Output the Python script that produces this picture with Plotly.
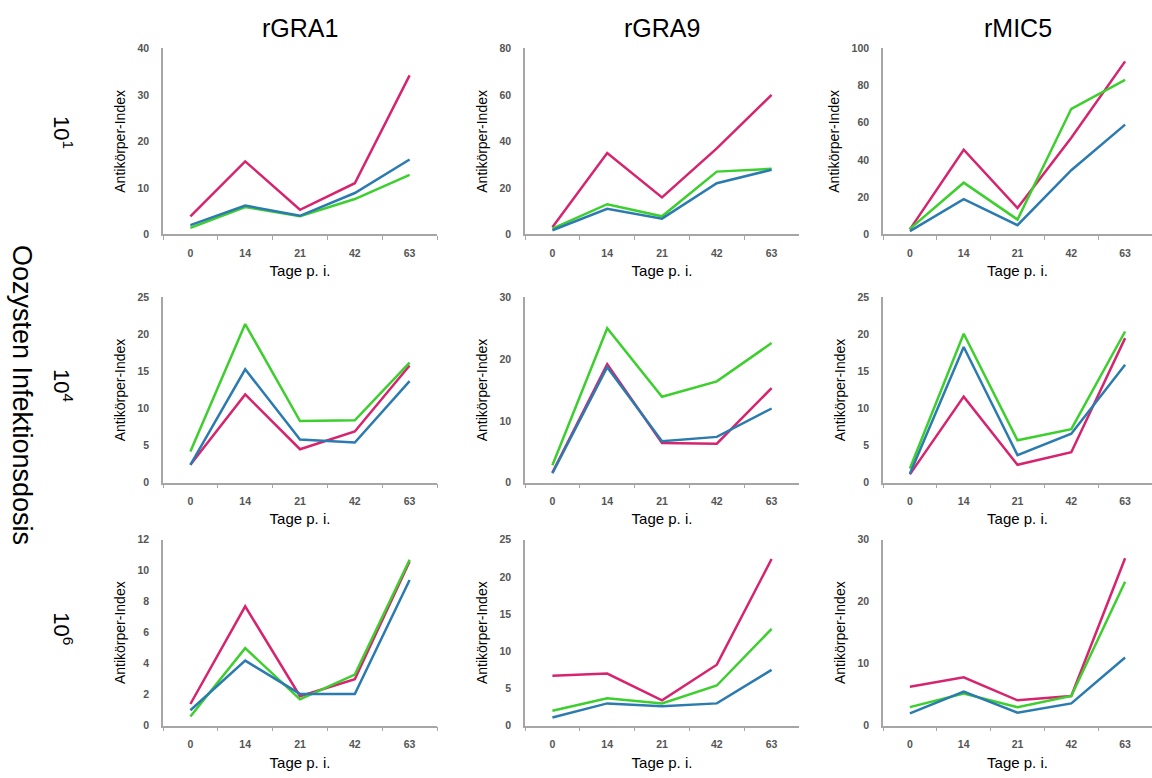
import plotly.graph_objects as go

days = ["0", "14", "21", "42", "63"]
antigens = ["rGRA1", "rGRA9", "rMIC5"]
doses = ["10<sup>1</sup>", "10<sup>4</sup>", "10<sup>6</sup>"]

# Row 1: dose 10^1
gra1_d1_red = [3.9, 15.7, 5.3, 11.0, 34.2]
gra1_d1_green = [1.4, 5.9, 3.9, 7.6, 12.8]
gra1_d1_blue = [2.0, 6.2, 4.0, 8.9, 16.1]
gra9_d1_red = [3.1, 35.0, 15.9, 37.0, 60.0]
gra9_d1_green = [2.5, 13.0, 7.8, 27.0, 28.2]
gra9_d1_blue = [1.8, 11.0, 6.8, 22.0, 27.8]
mic5_d1_red = [2.7, 45.5, 14.2, 52.0, 93.0]
mic5_d1_green = [3.0, 27.8, 8.0, 67.5, 83.0]
mic5_d1_blue = [1.8, 19.0, 5.0, 34.5, 59.0]

# Row 2: dose 10^4
gra1_d4_red = [2.4, 11.9, 4.5, 6.9, 15.8]
gra1_d4_green = [4.2, 21.4, 8.3, 8.4, 16.2]
gra1_d4_blue = [2.4, 15.3, 5.8, 5.4, 13.7]
gra9_d4_red = [1.6, 19.2, 6.4, 6.3, 15.3]
gra9_d4_green = [2.8, 25.0, 13.9, 16.4, 22.6]
gra9_d4_blue = [1.5, 18.7, 6.7, 7.4, 12.0]
mic5_d4_red = [1.1, 11.6, 2.4, 4.1, 19.5]
mic5_d4_green = [1.9, 20.1, 5.7, 7.2, 20.4]
mic5_d4_blue = [1.2, 18.3, 3.7, 6.6, 15.9]

# Row 3: dose 10^6
gra1_d6_red = [1.4, 7.7, 1.9, 3.0, 10.6]
gra1_d6_green = [0.6, 5.0, 1.7, 3.3, 10.7]
gra1_d6_blue = [1.0, 4.2, 2.05, 2.05, 9.4]
gra9_d6_red = [6.7, 7.0, 3.4, 8.2, 22.4]
gra9_d6_green = [2.0, 3.7, 3.0, 5.4, 13.0]
gra9_d6_blue = [1.1, 3.0, 2.6, 3.0, 7.5]
mic5_d6_red = [6.3, 7.8, 4.1, 4.8, 27.0]
mic5_d6_green = [3.0, 5.2, 3.0, 4.8, 23.2]
mic5_d6_blue = [2.0, 5.5, 2.1, 3.6, 11.0]

y_max = [[40, 80, 100], [25, 30, 25], [12, 25, 30]]
y_dtick = [[10, 20, 20], [5, 10, 5], [2, 5, 10]]

panels = [
    [(gra1_d1_red, gra1_d1_green, gra1_d1_blue),
     (gra9_d1_red, gra9_d1_green, gra9_d1_blue),
     (mic5_d1_red, mic5_d1_green, mic5_d1_blue)],
    [(gra1_d4_red, gra1_d4_green, gra1_d4_blue),
     (gra9_d4_red, gra9_d4_green, gra9_d4_blue),
     (mic5_d4_red, mic5_d4_green, mic5_d4_blue)],
    [(gra1_d6_red, gra1_d6_green, gra1_d6_blue),
     (gra9_d6_red, gra9_d6_green, gra9_d6_blue),
     (mic5_d6_red, mic5_d6_green, mic5_d6_blue)],
]

W, H = 1152, 778
col_px = [(163, 437), (525, 799), (883, 1152)]
row_px = [(43, 232), (296, 484), (542, 731)]

RED = "#d6246e"
GREEN = "#3ccf2e"
BLUE = "#2b7bb0"
AXIS = "#a6a6a6"
FAM = "Liberation Sans, Arial, sans-serif"
TICKFONT = dict(family=FAM, size=10.5, color="#555555", weight="bold")
XTITLEFONT = dict(family=FAM, size=15, color="#000000")
YTITLEFONT = dict(family=FAM, size=14, color="#000000")

fig = go.Figure()
layout = {}
for r in range(3):
    for c in range(3):
        idx = r * 3 + c + 1
        xa = "x" if idx == 1 else f"x{idx}"
        ya = "y" if idx == 1 else f"y{idx}"
        red, green, blue = panels[r][c]
        for vals, col in ((red, RED), (green, GREEN), (blue, BLUE)):
            fig.add_trace(go.Scatter(x=days, y=vals, mode="lines",
                                     line=dict(color=col, width=2.5),
                                     xaxis=xa, yaxis=ya, showlegend=False,
                                     hoverinfo="skip"))
        x0, x1 = col_px[c]
        y0, y1 = row_px[r]
        layout["xaxis" if idx == 1 else f"xaxis{idx}"] = dict(
            domain=[x0 / W, x1 / W], anchor=ya, type="category",
            range=[-0.5, 4.5], showline=True, linecolor=AXIS, linewidth=1.5,
            ticks="outside", tickson="boundaries", ticklen=4, tickcolor=AXIS,
            tickwidth=1.2, showgrid=False, zeroline=False, tickfont=TICKFONT,
            ticklabelstandoff=8,
            title=dict(text="Tage p. i.", font=XTITLEFONT, standoff=8),
            fixedrange=True)
        layout["yaxis" if idx == 1 else f"yaxis{idx}"] = dict(
            domain=[1 - y1 / H, 1 - y0 / H], anchor=xa,
            range=[0, y_max[r][c]], dtick=y_dtick[r][c], tick0=0,
            showline=True, linecolor=AXIS, linewidth=1.5, ticks="",
            showgrid=False, zeroline=False, tickfont=TICKFONT,
            ticklabelstandoff=10,
            title=dict(text="Antikörper-Index", font=YTITLEFONT, standoff=9),
            fixedrange=True)

annotations = []
for c, name in enumerate(antigens):
    x0, x1 = col_px[c]
    annotations.append(dict(text=name, x=(x0 + x1) / 2 / W, y=1 - 22 / H,
                            xref="paper", yref="paper", showarrow=False,
                            xanchor="center", yanchor="middle",
                            font=dict(family=FAM, size=25, color="#000000")))
row_label_y = [128, 385, 632]
for r, name in enumerate(doses):
    annotations.append(dict(text=name, x=63 / W, y=1 - row_label_y[r] / H,
                            xref="paper", yref="paper", showarrow=False, textangle=90,
                            xanchor="center", yanchor="middle",
                            font=dict(family=FAM, size=22, color="#000000")))
annotations.append(dict(text="Oozysten Infektionsdosis", x=22 / W, y=1 - 395 / H,
                        xref="paper", yref="paper", showarrow=False, textangle=90,
                        xanchor="center", yanchor="middle",
                        font=dict(family=FAM, size=27, color="#000000")))

fig.update_layout(**layout)
fig.update_layout(width=W, height=H, margin=dict(l=0, r=0, t=0, b=0),
                  paper_bgcolor="white", plot_bgcolor="white",
                  annotations=annotations, showlegend=False)
fig.write_html("out.html")
